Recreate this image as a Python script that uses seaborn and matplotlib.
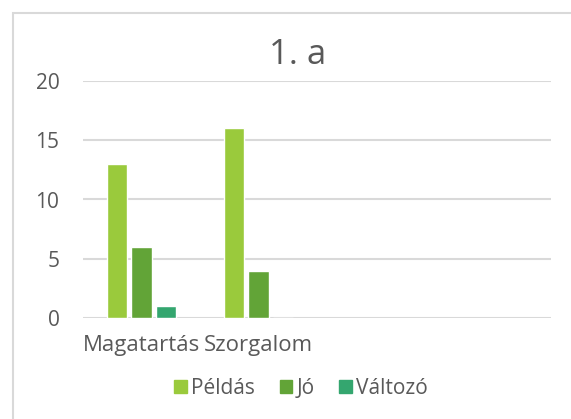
import matplotlib.pyplot as plt
import matplotlib.patches as mpatches
import pandas as pd
import seaborn as sns

# adatok
categories = ["Magatartás", "Szorgalom", " ", "  "]
series = ["Példás", "Jó", "Változó"]
peldas = [13, 16]
jo = [6, 4]
valtozo = [1, 0]
colors = ["#9ACA3C", "#62A437", "#34A66F"]

rows = []
for i, cat in enumerate(categories[:2]):
    rows.append((cat, "Példás", peldas[i]))
    rows.append((cat, "Jó", jo[i]))
    rows.append((cat, "Változó", valtozo[i]))
df = pd.DataFrame(rows, columns=["kat", "sorozat", "ertek"])

sns.set_style("white")
plt.rcParams['font.family'] = ['Open Sans', 'DejaVu Sans']
text_color = "#595959"

fig = plt.figure(figsize=(5.71, 4.19), dpi=100)
ax = fig.add_axes([83 / 571, 1 - 318 / 419, (551 - 83) / 571, (318 - 81) / 419])

sns.barplot(data=df, x="kat", y="ertek", hue="sorozat", order=categories,
            hue_order=series, palette=colors, width=0.62, gap=0.16,
            saturation=1, ax=ax, legend=False)

ax.set_ylim(0, 20)
ax.set_yticks([0, 5, 10, 15, 20])
ax.set_xlim(-0.5, 3.5)
ax.yaxis.grid(True, color="#D9D9D9", linewidth=1.5)
ax.set_axisbelow(True)
for s in ax.spines.values():
    s.set_visible(False)
ax.tick_params(axis="both", length=0, labelsize=15, colors=text_color)
ax.tick_params(axis="x", labelsize=16, pad=12)
ax.tick_params(axis="y", pad=17)
ax.set_xlabel("")
ax.set_ylabel("")

fig.text(298 / 571, 1 - 55 / 419, "1. a", ha="center", va="center",
         fontsize=25, color=text_color)

handles = [mpatches.Patch(color=c, label=s) for c, s in zip(colors, series)]
fig.legend(handles=handles, loc="center", bbox_to_anchor=(301 / 571, 1 - 388 / 419),
           ncol=3, frameon=False, fontsize=15, labelcolor=text_color,
           handlelength=0.6, handleheight=0.6, handletextpad=0.2, columnspacing=1.2)

# keret
fig.patches.append(mpatches.Rectangle((13 / 571, -0.1), 1.0, 1 - 13 / 419 + 0.1,
                                      transform=fig.transFigure, fill=False,
                                      edgecolor="#D9D9D9", linewidth=1.5))

fig.savefig("out.png", dpi=100)
